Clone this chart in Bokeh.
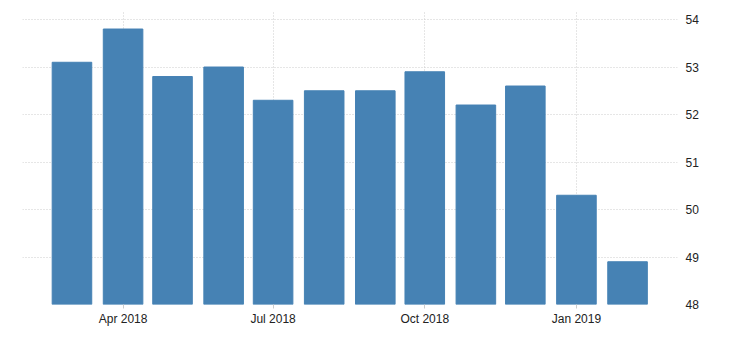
import datetime as dt
from bokeh.plotting import figure
from bokeh.models import ColumnDataSource, FixedTicker, Range1d
from bokeh.embed import file_html
from bokeh.resources import INLINE

months = ["2018-03-01", "2018-04-01", "2018-05-01", "2018-06-01", "2018-07-01", "2018-08-01",
          "2018-09-01", "2018-10-01", "2018-11-01", "2018-12-01", "2019-01-01", "2019-02-01"]
values = [53.1, 53.8, 52.8, 53.0, 52.3, 52.5, 52.5, 52.9, 52.2, 52.6, 50.3, 48.9]
tick_dates = ["2018-04-01", "2018-07-01", "2018-10-01", "2019-01-01"]
tick_labels = ["Apr 2018", "Jul 2018", "Oct 2018", "Jan 2019"]
y_ticks = [48, 49, 50, 51, 52, 53, 54]


def ms(s):
    d = dt.datetime.strptime(s, "%Y-%m-%d").replace(tzinfo=dt.timezone.utc)
    return d.timestamp() * 1000.0


DAY = 86400000.0
xs = [ms(m) for m in months]
src = ColumnDataSource(dict(x=xs, top=values))

p = figure(width=730, height=340, output_backend="svg", toolbar_location=None,
           x_axis_type="datetime", y_axis_location="right",
           min_border_left=22, min_border_right=53, min_border_top=10, min_border_bottom=36)
p.x_range = Range1d(xs[0] - 30 * DAY, xs[-1] + 30.3 * DAY)
p.y_range = Range1d(48, 54.19)

p.vbar(x="x", top="top", bottom=48, width=24 * DAY, source=src, color="#4682B4")

tick_ms = [ms(t) for t in tick_dates]
p.xaxis.ticker = FixedTicker(ticks=tick_ms)
p.xaxis.major_label_overrides = {t: l for t, l in zip(tick_ms, tick_labels)}
p.yaxis.ticker = FixedTicker(ticks=y_ticks)

p.outline_line_color = None
for ax in (p.xaxis, p.yaxis):
    ax.axis_line_color = None
    ax.minor_tick_line_color = None
    ax.major_label_text_font = "Liberation Sans"
    ax.major_label_text_font_size = "12px"
    ax.major_label_text_color = "#222222"
p.yaxis.major_tick_line_color = None
p.yaxis.major_label_standoff = 2
p.xaxis.major_tick_line_color = "#cccccc"
p.xaxis.major_tick_out = 4
p.xaxis.major_tick_in = 0
p.xaxis.major_label_standoff = 3

for g in (p.xgrid, p.ygrid):
    g.grid_line_color = "#cccccc"
    g.grid_line_dash = "1 2"
    g.grid_line_width = 1
p.ygrid.ticker = FixedTicker(ticks=y_ticks)
p.xgrid.ticker = FixedTicker(ticks=tick_ms)

open("out.html", "w").write(file_html(p, INLINE))
